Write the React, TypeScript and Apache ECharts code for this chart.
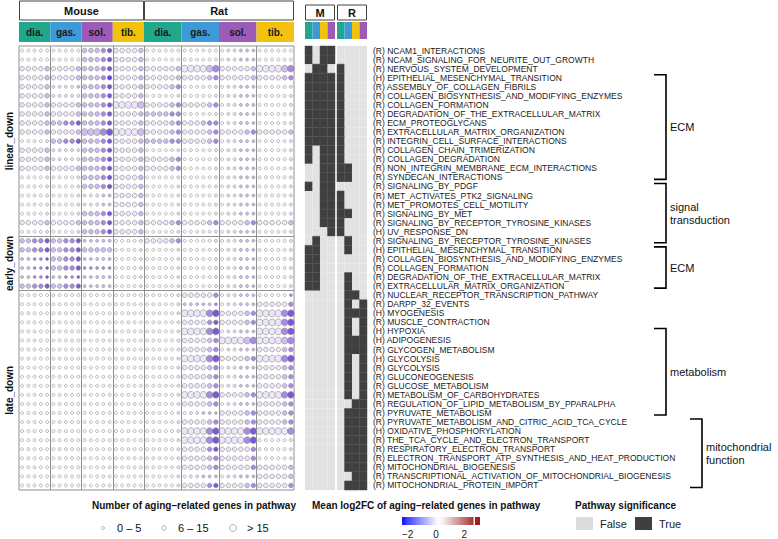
import React, { useEffect, useRef } from "react";
import * as echarts from "echarts";

const speciesNames = ["Mouse", "Rat"];
const tissueNames = ["dia.", "gas.", "sol.", "tib."];
const heatTissueOrder = ["dia.", "gas.", "tib.", "sol."];
const tissueColors: Record<string, string> = { "dia.": "#21a88c", "gas.": "#3d9ad8", "sol.": "#9b5bb7", "tib.": "#f2c20f" };
const repsPerSpecies = [5, 6];

const pathways = [
  "(R) NCAM1_INTERACTIONS",
  "(R) NCAM_SIGNALING_FOR_NEURITE_OUT_GROWTH",
  "(R) NERVOUS_SYSTEM_DEVELOPMENT",
  "(H) EPITHELIAL_MESENCHYMAL_TRANSITION",
  "(R) ASSEMBLY_OF_COLLAGEN_FIBRILS",
  "(R) COLLAGEN_BIOSYNTHESIS_AND_MODIFYING_ENZYMES",
  "(R) COLLAGEN_FORMATION",
  "(R) DEGRADATION_OF_THE_EXTRACELLULAR_MATRIX",
  "(R) ECM_PROTEOGLYCANS",
  "(R) EXTRACELLULAR_MATRIX_ORGANIZATION",
  "(R) INTEGRIN_CELL_SURFACE_INTERACTIONS",
  "(R) COLLAGEN_CHAIN_TRIMERIZATION",
  "(R) COLLAGEN_DEGRADATION",
  "(R) NON_INTEGRIN_MEMBRANE_ECM_INTERACTIONS",
  "(R) SYNDECAN_INTERACTIONS",
  "(R) SIGNALING_BY_PDGF",
  "(R) MET_ACTIVATES_PTK2_SIGNALING",
  "(R) MET_PROMOTES_CELL_MOTILITY",
  "(R) SIGNALING_BY_MET",
  "(R) SIGNALING_BY_RECEPTOR_TYROSINE_KINASES",
  "(H) UV_RESPONSE_DN",
  "(R) SIGNALING_BY_RECEPTOR_TYROSINE_KINASES",
  "(H) EPITHELIAL_MESENCHYMAL_TRANSITION",
  "(R) COLLAGEN_BIOSYNTHESIS_AND_MODIFYING_ENZYMES",
  "(R) COLLAGEN_FORMATION",
  "(R) DEGRADATION_OF_THE_EXTRACELLULAR_MATRIX",
  "(R) EXTRACELLULAR_MATRIX_ORGANIZATION",
  "(R) NUCLEAR_RECEPTOR_TRANSCRIPTION_PATHWAY",
  "(R) DARPP_32_EVENTS",
  "(H) MYOGENESIS",
  "(R) MUSCLE_CONTRACTION",
  "(H) HYPOXIA",
  "(H) ADIPOGENESIS",
  "(R) GLYCOGEN_METABOLISM",
  "(H) GLYCOLYSIS",
  "(R) GLYCOLYSIS",
  "(R) GLUCONEOGENESIS",
  "(R) GLUCOSE_METABOLISM",
  "(R) METABOLISM_OF_CARBOHYDRATES",
  "(R) REGULATION_OF_LIPID_METABOLISM_BY_PPARALPHA",
  "(R) PYRUVATE_METABOLISM",
  "(R) PYRUVATE_METABOLISM_AND_CITRIC_ACID_TCA_CYCLE",
  "(H) OXIDATIVE_PHOSPHORYLATION",
  "(R) THE_TCA_CYCLE_AND_ELECTRON_TRANSPORT",
  "(R) RESPIRATORY_ELECTRON_TRANSPORT",
  "(R) ELECTRON_TRANSPORT_ATP_SYNTHESIS_AND_HEAT_PRODUCTION",
  "(R) MITOCHONDRIAL_BIOGENESIS",
  "(R) TRANSCRIPTIONAL_ACTIVATION_OF_MITOCHONDRIAL_BIOGENESIS",
  "(R) MITOCHONDRIAL_PROTEIN_IMPORT",
];

const rowGroups = [
  { name: "linear_down", from: 0, to: 21 },
  { name: "early_down", from: 21, to: 27 },
  { name: "late_down", from: 27, to: 49 },
];

const brackets = [
  { lines: ["ECM"], from: 3, to: 14, x: 666 },
  { lines: ["signal", "transduction"], from: 15, to: 21, x: 666 },
  { lines: ["ECM"], from: 22, to: 26, x: 666 },
  { lines: ["metabolism"], from: 31, to: 40, x: 666 },
  { lines: ["mitochondrial", "function"], from: 41, to: 48, x: 702 },
];

// size class per dot: 1 = 0-5, 2 = 6-15, 3 = >15 (Mouse dia gas sol tib | Rat dia gas sol tib)
const dotSize = [
  "11111 11111 22222 22222 111111 111111 111111 111111",
  "11111 11111 22222 22222 111111 111111 111111 111111",
  "22222 22222 22222 22222 222222 333333 222222 333333",
  "22222 22222 22222 22222 222222 222222 222222 222222",
  "22222 11111 22222 22222 222222 111111 111111 111111",
  "22222 11111 22222 22222 111111 111111 111111 111111",
  "22222 22222 22222 33333 222222 222222 111111 111111",
  "22222 22222 22222 22222 222222 111111 111111 111111",
  "22222 22222 22222 22222 222222 222222 111111 111111",
  "22222 22222 33333 33333 222222 222222 222222 222222",
  "11111 22222 22222 22222 222222 222222 111111 111111",
  "22222 11111 22222 22222 111111 111111 111111 111111",
  "22222 11111 22222 22222 222222 111111 111111 111111",
  "22222 22222 22222 22222 222222 111111 111111 111111",
  "11111 11111 22222 22222 111111 111111 111111 111111",
  "11111 11111 22222 22222 111111 111111 111111 111111",
  "11111 11111 11111 22222 111111 111111 111111 111111",
  "11111 11111 11111 22222 111111 111111 111111 111111",
  "11111 11111 22222 22222 111111 111111 111111 111111",
  "22222 22222 22222 22222 222222 222222 222222 222222",
  "11111 11111 22222 22222 111111 111111 111111 111111",
  "22222 22222 11111 11111 222222 111111 111111 111111",
  "22222 22222 22222 11111 111111 111111 111111 111111",
  "11111 22222 11111 11111 111111 111111 111111 111111",
  "11111 22222 11111 11111 111111 111111 111111 111111",
  "11111 11111 11111 11111 111111 111111 111111 111111",
  "22222 22222 11111 11111 111111 111111 111111 111111",
  "11111 11111 11111 11111 111111 222222 111111 111111",
  "11111 11111 11111 11111 111111 111111 111111 222222",
  "11111 11111 11111 11111 111111 333333 222222 333333",
  "11111 11111 11111 11111 111111 222222 222222 333333",
  "11111 11111 11111 11111 111111 333333 111111 333333",
  "11111 11111 11111 11111 111111 222222 333333 333333",
  "11111 11111 11111 11111 111111 222222 111111 222222",
  "11111 11111 11111 11111 111111 333333 222222 333333",
  "11111 11111 11111 11111 111111 222222 111111 222222",
  "11111 11111 11111 11111 111111 222222 111111 222222",
  "11111 11111 11111 11111 111111 222222 111111 222222",
  "11111 11111 11111 11111 111111 333333 222222 333333",
  "11111 11111 11111 11111 111111 222222 111111 222222",
  "11111 11111 11111 11111 111111 111111 222222 222222",
  "11111 11111 11111 11111 111111 222222 222222 222222",
  "11111 11111 11111 11111 111111 333333 333333 333333",
  "11111 11111 11111 11111 111111 333333 333333 111111",
  "11111 11111 11111 11111 111111 222222 222222 111111",
  "11111 11111 11111 11111 111111 222222 222222 111111",
  "11111 11111 11111 11111 111111 222222 222222 222222",
  "11111 11111 11111 11111 111111 111111 111111 222222",
  "11111 11111 11111 11111 111111 222222 222222 222222",
];

// fill shade per dot: 0 white .. 4 deep purple, 5 blue-violet
const dotShade = [
  "00000 00000 22234 11112 000000 000000 011222 000000",
  "00000 00000 22234 11112 000000 000000 011222 000000",
  "11112 11112 22234 11112 111112 111123 111112 111123",
  "11112 11112 22235 11112 111112 111123 111112 111123",
  "11112 11112 22234 11112 111123 000001 011222 000001",
  "11112 11111 22234 11112 000001 000001 011222 000001",
  "11112 11112 22234 11112 111123 111123 011222 000001",
  "11112 11112 22234 11112 222233 000001 011222 000001",
  "11112 22334 22234 11112 111123 111233 011222 000001",
  "11112 11112 22234 11112 111123 111123 111123 111112",
  "00001 22334 22234 11112 222233 111123 011222 000001",
  "11112 11111 22234 11112 000001 000001 011222 000001",
  "11112 11111 22234 11112 111123 000001 011222 000001",
  "11112 11112 22234 11112 111123 000001 011222 000001",
  "00001 00001 22234 11112 000001 000001 011222 000001",
  "00001 00001 22234 11112 000001 000001 011222 000001",
  "00001 00001 11122 11112 000001 000001 011222 000001",
  "00001 00001 11122 11112 000001 000001 011222 000001",
  "00001 00001 22234 11112 000001 000001 011222 000001",
  "11112 11112 22234 11112 111123 111123 111123 111112",
  "00001 00001 22234 11112 000001 000001 011222 000001",
  "22334 22334 22222 00001 111123 000001 011222 000001",
  "22334 22334 22222 00001 000001 000001 011222 000001",
  "22334 22334 22222 00001 000001 000001 011222 000001",
  "22334 22334 33333 00001 000001 000001 011222 000001",
  "22334 22334 22222 00001 000001 000001 011222 000001",
  "22334 22334 22222 00001 000001 000001 011222 000001",
  "00000 00000 00000 00000 000001 111113 011222 000003",
  "00000 00000 00000 00000 000001 222223 011222 111113",
  "00000 00000 00000 00000 000001 111134 111123 111134",
  "00000 00000 00000 00000 000001 111134 111123 111134",
  "00000 00000 00000 00000 000001 111134 011222 111134",
  "00000 00000 00000 00000 000001 111123 111123 111123",
  "00000 00000 00000 00000 000001 111123 011222 111123",
  "00000 00000 00000 00000 000001 111134 111123 111134",
  "00000 00000 00000 00000 000001 111123 011222 111123",
  "00000 00000 00000 00000 000001 111123 011222 111123",
  "00000 00000 00000 00000 000001 111123 011222 111123",
  "00000 00000 00000 00000 000001 111134 111123 111134",
  "00000 00000 00000 00000 000001 111123 011222 111123",
  "00000 00000 00000 00000 000001 011222 111123 111123",
  "00000 00000 00000 00000 000001 111123 111123 111123",
  "00000 00000 00000 00000 000001 111134 111134 111113",
  "00000 00000 00000 00000 000001 111134 111134 000001",
  "00000 00000 00000 00000 000001 111134 111113 000001",
  "00000 00000 00000 00000 000001 111123 111113 000001",
  "00000 00000 00000 00000 000001 111123 111113 111112",
  "00000 00000 00000 00000 000001 011222 011222 111112",
  "00000 00000 00000 00000 000001 111134 111123 111113",
];

// pathway significance (1 = True), columns dia gas tib sol
const sigMouse = [
  "1011", "1011", "0110", "1111", "1111", "1111", "1111", "1111", "1111", "1111",
  "1111", "1011", "1011", "0011", "0011", "1011", "0011", "0011", "0011", "0011",
  "0001", "0100", "1100", "1100", "1100", "1100", "1100", "0000", "0000", "0000",
  "0000", "0000", "0000", "0000", "0000", "0000", "0000", "0000", "0000", "0000",
  "0000", "0000", "0000", "0000", "0000", "0000", "0000", "0000", "0000",
];
const sigRat = [
  "0000", "0000", "1000", "1000", "1000", "1000", "1000", "1000", "1000", "1000",
  "1000", "1000", "1000", "1100", "1100", "0000", "1000", "1000", "1100", "1000",
  "1000", "0100", "0100", "0000", "0000", "0100", "0100", "0110", "0101", "0111",
  "0101", "0101", "0111", "0111", "0101", "0101", "0101", "0101", "0101", "0011",
  "0111", "0111", "0111", "0111", "0111", "0111", "0111", "0011", "0111",
];

const legendSizeLabels = ["0 – 5", "6 – 15", "> 15"];
const colorbarTicks = [-2, 0, 2];
const sigLegendLabels = ["False", "True"];

const parse = (s: string) => s.replace(/ /g, "").split("").map(Number);

const GRID_TOP = 46;
const GRID_H = 444;
const NROW = pathways.length;
const ROW_H = GRID_H / NROW;
const DOT_LEFT = 19;
const DOT_W = 275;
const NCOL = 44;
const COL_W = DOT_W / NCOL;
const sizePx = [0, 3, 4.6, 6.8];
const shadeColors = ["#ffffff", "#ece6f8", "#cdbdf0", "#a68ae4", "#7c58d8", "#5b3fe0"];
const FONT = "Liberation Sans, Arial, Helvetica, sans-serif";

function buildOption() {
  const scatterData: any[] = [];
  for (let r = 0; r < NROW; r++) {
    const sz = parse(dotSize[r]);
    const sh = parse(dotShade[r]);
    for (let c = 0; c < NCOL; c++) {
      scatterData.push({
        value: [c + 0.5, r + 0.5],
        symbolSize: sizePx[sz[c]],
        itemStyle: { color: shadeColors[sh[c]] },
      });
    }
  }
  const heat = (arr: string[]) => {
    const out: number[][] = [];
    arr.forEach((s, r) => s.split("").forEach((ch, c) => out.push([c, r, Number(ch)])));
    return out;
  };
  const renderCell = (params: any, api: any) => {
    const c = api.value(0), r = api.value(1), v = api.value(2);
    const p0 = api.coord([c, r]);
    const p1 = api.coord([c + 1, r + 1]);
    return {
      type: "rect",
      shape: { x: p0[0], y: p0[1], width: p1[0] - p0[0], height: p1[1] - p0[1] },
      style: v ? { fill: "#3f3f3f", stroke: "#4e4e4e", lineWidth: 0.5 } : { fill: "#e2e2e2" },
    };
  };

  const sepX: number[] = [];
  let acc = 0;
  repsPerSpecies.forEach((n) => {
    tissueNames.forEach(() => {
      acc += n;
      if (acc < NCOL) sepX.push(acc);
    });
  });
  const sepY = rowGroups.slice(0, -1).map((g) => g.to);

  const graphic: any[] = [];
  let x = DOT_LEFT;
  repsPerSpecies.forEach((n, si) => {
    const w = n * 4 * COL_W;
    graphic.push({ type: "rect", shape: { x: x + 0.5, y: 1, width: w - 1, height: 19 }, style: { fill: "#fff", stroke: "#444", lineWidth: 1 } });
    graphic.push({ type: "text", x: x + w / 2, y: 10.5, style: { text: speciesNames[si], font: `bold 11px ${FONT}`, fill: "#111", align: "center", verticalAlign: "middle" } });
    tissueNames.forEach((t, ti) => {
      const tx = x + ti * n * COL_W;
      graphic.push({ type: "rect", shape: { x: tx, y: 22, width: n * COL_W, height: 20 }, style: { fill: tissueColors[t] } });
      graphic.push({ type: "text", x: tx + (n * COL_W) / 2, y: 32, style: { text: t, font: `bold 10px ${FONT}`, fill: "#1a1a1a", align: "center", verticalAlign: "middle" } });
    });
    x += w;
  });
  [["M", 305], ["R", 337]].forEach(([lab, hx]: any) => {
    graphic.push({ type: "rect", shape: { x: hx + 0.5, y: 5, width: 29, height: 15 }, style: { fill: "#fff", stroke: "#444", lineWidth: 1 } });
    graphic.push({ type: "text", x: hx + 15, y: 12.5, style: { text: lab, font: `bold 11px ${FONT}`, fill: "#111", align: "center", verticalAlign: "middle" } });
    heatTissueOrder.forEach((t, i) => {
      graphic.push({ type: "rect", shape: { x: hx + i * 7.5, y: 22, width: 7.5, height: 17 }, style: { fill: tissueColors[t] } });
    });
  });
  rowGroups.forEach((g) => {
    const cy = GRID_TOP + ((g.from + g.to) / 2) * ROW_H;
    graphic.push({ type: "text", x: 9, y: cy, rotation: Math.PI / 2, style: { text: g.name, font: `bold 10px ${FONT}`, fill: "#111", align: "center", verticalAlign: "middle" } });
  });
  brackets.forEach((b) => {
    const y0 = GRID_TOP + (b.from + 0.5) * ROW_H - 3;
    const y1 = GRID_TOP + (b.to + 0.5) * ROW_H + 2;
    graphic.push({ type: "polyline", shape: { points: [[b.x - 12, y0], [b.x, y0], [b.x, y1], [b.x - 12, y1]] }, style: { stroke: "#000", lineWidth: 1.6, fill: null } });
    const cy = (y0 + y1) / 2;
    b.lines.forEach((ln, i) => {
      graphic.push({ type: "text", x: b.x + 4, y: cy + (i - (b.lines.length - 1) / 2) * 13, style: { text: ln, font: `11px ${FONT}`, fill: "#111", verticalAlign: "middle" } });
    });
  });
  graphic.push({ type: "text", x: 194, y: 505, style: { text: "Number of aging–related genes in pathway", font: `bold 10px ${FONT}`, fill: "#111", align: "center", verticalAlign: "middle" } });
  const lx = [103, 164, 233];
  legendSizeLabels.forEach((lab, i) => {
    graphic.push({ type: "circle", shape: { cx: lx[i], cy: 528, r: sizePx[i + 1] / 2 }, style: { fill: "#fff", stroke: "#8c8c8c", lineWidth: 0.7 } });
    graphic.push({ type: "text", x: lx[i] + 14, y: 528, style: { text: lab, font: `11px ${FONT}`, fill: "#111", verticalAlign: "middle" } });
  });
  graphic.push({ type: "text", x: 312, y: 505, style: { text: "Mean log2FC of aging–related genes in pathway", font: `bold 10px ${FONT}`, fill: "#111", verticalAlign: "middle" } });
  // colour bar: solid low end, gradient, tick gap, solid high end
  graphic.push({ type: "rect", shape: { x: 402, y: 517, width: 3, height: 8 }, style: { fill: "#1a1aff" } });
  graphic.push({
    type: "rect", shape: { x: 405, y: 517, width: 68.5, height: 8 },
    style: { fill: new echarts.graphic.LinearGradient(0, 0, 1, 0, [
      { offset: 0, color: "#3030ff" }, { offset: 0.48, color: "#ffffff" }, { offset: 0.56, color: "#f7eeee" }, { offset: 1, color: "#a83434" },
    ]) },
  });
  graphic.push({ type: "rect", shape: { x: 475, y: 517, width: 5, height: 8 }, style: { fill: "#a51c1c" } });
  colorbarTicks.forEach((t) => {
    const tx = 436 + t * 14.2;
    graphic.push({ type: "text", x: tx, y: 534, style: { text: t < 0 ? "−" + Math.abs(t) : String(t), font: `10px ${FONT}`, fill: "#222", align: "center", verticalAlign: "middle" } });
  });
  graphic.push({ type: "text", x: 575, y: 505, style: { text: "Pathway significance", font: `bold 10px ${FONT}`, fill: "#111", verticalAlign: "middle" } });
  sigLegendLabels.forEach((lab, i) => {
    const bx = 576 + i * 59;
    graphic.push({ type: "rect", shape: { x: bx, y: 517, width: 17, height: 13 }, style: { fill: i ? "#3f3f3f" : "#dcdcdc" } });
    graphic.push({ type: "text", x: bx + 24, y: 524, style: { text: lab, font: `11px ${FONT}`, fill: "#222", verticalAlign: "middle" } });
  });

  return {
    animation: false,
    backgroundColor: "#ffffff",
    grid: [
      { left: DOT_LEFT, top: GRID_TOP, width: DOT_W, height: GRID_H, show: true, borderColor: "#8f8f8f", borderWidth: 1, backgroundColor: "transparent" },
      { left: 305, top: GRID_TOP, width: 30, height: GRID_H },
      { left: 337, top: GRID_TOP, width: 30, height: GRID_H },
    ],
    xAxis: [
      { gridIndex: 0, type: "value", min: 0, max: NCOL, show: false },
      { gridIndex: 1, type: "value", min: 0, max: 4, show: false },
      { gridIndex: 2, type: "value", min: 0, max: 4, show: false },
    ],
    yAxis: [
      { gridIndex: 0, type: "value", min: 0, max: NROW, inverse: true, show: false },
      { gridIndex: 1, type: "value", min: 0, max: NROW, inverse: true, show: false },
      { gridIndex: 2, type: "value", min: 0, max: NROW, inverse: true, show: false },
      {
        gridIndex: 2, type: "category", data: pathways, inverse: true, position: "right",
        axisLine: { show: false }, axisTick: { show: false }, splitLine: { show: false },
        axisLabel: { fontSize: 8.5, margin: 6, color: "#1a1a1a", fontFamily: FONT, interval: 0 },
      },
    ],
    series: [
      {
        type: "scatter", xAxisIndex: 0, yAxisIndex: 0, data: scatterData,
        itemStyle: { borderColor: "#8a8a8a", borderWidth: 0.6, opacity: 1 },
        markLine: {
          silent: true, symbol: ["none", "none"], label: { show: false },
          lineStyle: { color: "#8f8f8f", type: "solid", width: 1 },
          data: [...sepX.map((v) => ({ xAxis: v })), ...sepY.map((v) => ({ yAxis: v }))],
        },
      },
      { type: "custom", xAxisIndex: 1, yAxisIndex: 1, data: heat(sigMouse), renderItem: renderCell },
      { type: "custom", xAxisIndex: 2, yAxisIndex: 2, data: heat(sigRat), renderItem: renderCell },
    ],
    graphic,
  };
}

export default function App() {
  const ref = useRef<HTMLDivElement>(null);
  useEffect(() => {
    document.body.style.margin = "0";
    const chart = echarts.init(ref.current!, null, { renderer: "svg" });
    chart.setOption(buildOption() as any);
    return () => chart.dispose();
  }, []);
  return <div ref={ref} style={{ width: 778, height: 539 }} />;
}
